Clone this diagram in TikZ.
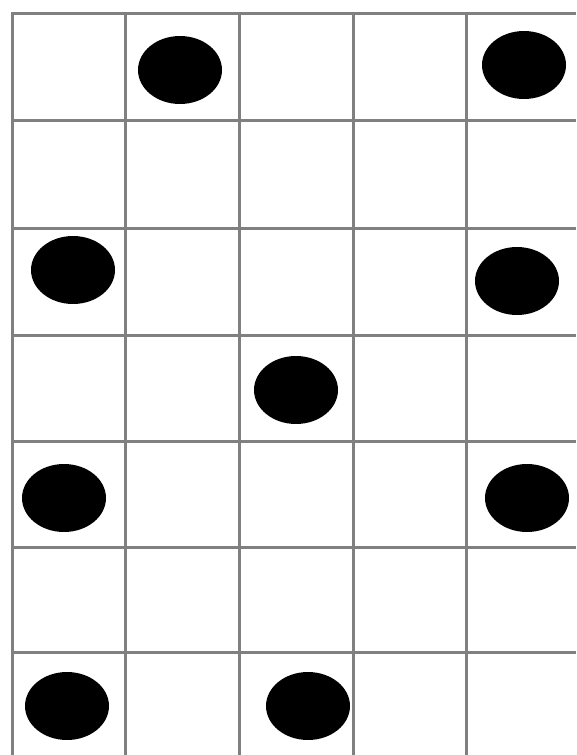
\documentclass[tikz,border=0pt]{standalone}
\usepackage{tikz}
\usetikzlibrary{positioning}

\begin{document}
\begin{tikzpicture}[x=1pt,y=-1pt,
  gridline/.style={draw=black!50,line width=3pt},
  dot/.style={fill=black}]
  \useasboundingbox[fill=white] (0,0) rectangle (576,755);
  % grid
  \foreach \gx in {12,125,239,353,466}
    \draw[gridline] (\gx,12) -- (\gx,755);
  \foreach \gy in {13,120,228,335,441,547,652}
    \draw[gridline] (12,\gy) -- (576,\gy);
  % dots
  \foreach \dx/\dy in {180/70,524/65,73/270,517/281,296/390,64/498,527/498,67/706,308/706}
    \fill[dot] (\dx,\dy) ellipse [x radius=42,y radius=34];
\end{tikzpicture}
\end{document}
